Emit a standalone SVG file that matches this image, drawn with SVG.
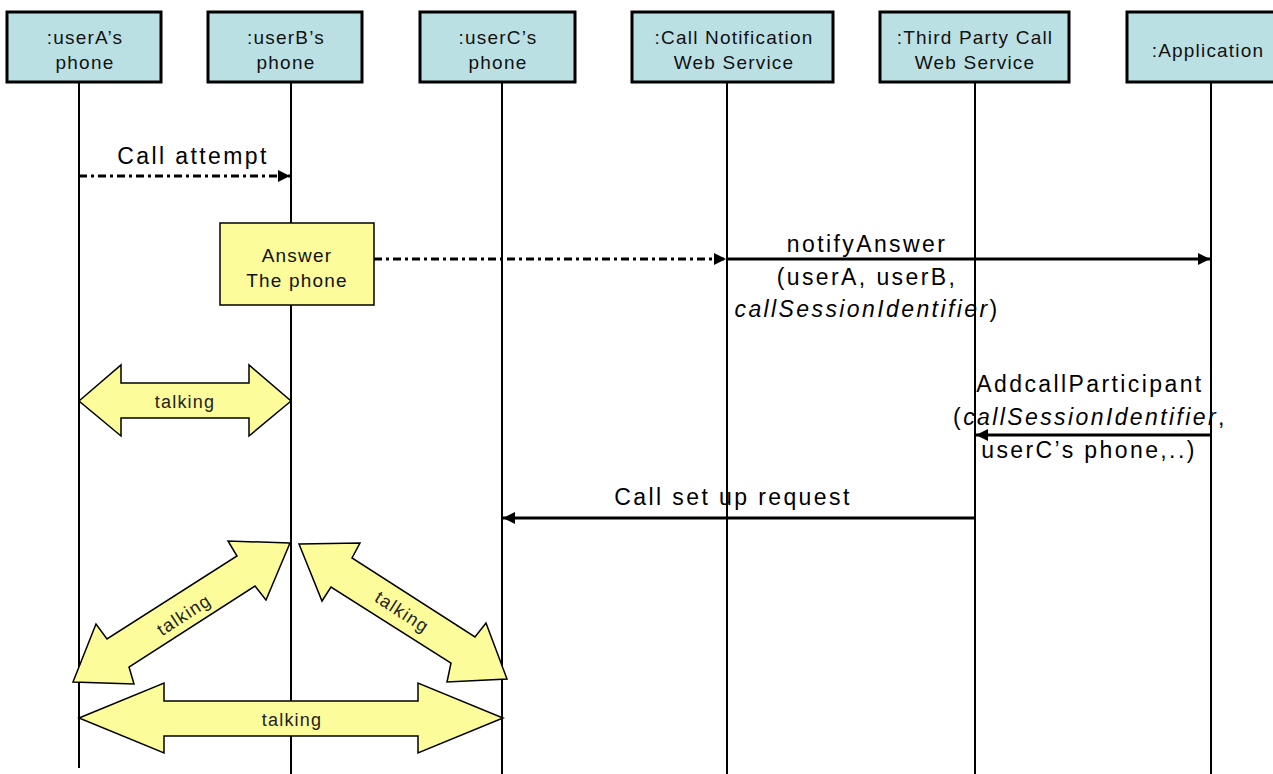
<svg xmlns="http://www.w3.org/2000/svg" width="1273" height="774" viewBox="0 0 1273 774">
<defs>
<marker id="ah" markerUnits="userSpaceOnUse" markerWidth="13" markerHeight="13" refX="12" refY="6" orient="auto">
<path d="M0,0 L12,6 L0,12 z" fill="#000"/>
</marker>
<style>
.obj{fill:#BBE0E3;stroke:#000;stroke-width:3}
.lbl{font-family:"Liberation Sans",Arial,sans-serif;font-size:19px;letter-spacing:1.2px;fill:#111;text-anchor:middle}
.msg{font-family:"Liberation Sans",Arial,sans-serif;font-size:23px;letter-spacing:2.4px;fill:#000;text-anchor:middle}
.life{stroke:#000;stroke-width:2;fill:none}
.dd{stroke:#000;stroke-width:3;fill:none;stroke-dasharray:8 4 3 4}
.sol{stroke:#000;stroke-width:3;fill:none}
.talk{fill:#FCFC9B;stroke:#000;stroke-width:1.5;stroke-linejoin:miter}
.tk{font-family:"Liberation Sans",Arial,sans-serif;font-size:18px;letter-spacing:1.2px;fill:#222;text-anchor:middle}
</style>
</defs>
<rect width="1273" height="774" fill="#fff"/>
<g id="lifelines">
<line class="life" x1="79" y1="82" x2="79" y2="768"/>
<line class="life" x1="291" y1="82" x2="291" y2="774"/>
<line class="life" x1="502" y1="82" x2="502" y2="774"/>
<line class="life" x1="727" y1="82" x2="727" y2="774"/>
<line class="life" x1="975" y1="82" x2="975" y2="774"/>
<line class="life" x1="1211" y1="82" x2="1211" y2="774"/>
</g>
<g id="userA">
<rect class="obj" x="7" y="12" width="154" height="70"/>
<text class="lbl" x="85" y="44">:userA’s</text>
<text class="lbl" x="85" y="69">phone</text>
</g>
<g id="userB">
<rect class="obj" x="208" y="12" width="154" height="70"/>
<text class="lbl" x="286" y="44">:userB’s</text>
<text class="lbl" x="286" y="69">phone</text>
</g>
<g id="userC">
<rect class="obj" x="420" y="12" width="155" height="70"/>
<text class="lbl" x="498" y="44">:userC’s</text>
<text class="lbl" x="498" y="69">phone</text>
</g>
<g id="callNotification">
<rect class="obj" x="632" y="12" width="201" height="70"/>
<text class="lbl" x="734" y="44">:Call Notification</text>
<text class="lbl" x="734" y="69">Web Service</text>
</g>
<g id="thirdParty">
<rect class="obj" x="880" y="12" width="189" height="70"/>
<text class="lbl" x="975" y="44">:Third Party Call</text>
<text class="lbl" x="975" y="69">Web Service</text>
</g>
<g id="application">
<rect class="obj" x="1127" y="12" width="150" height="70"/>
<text class="lbl" x="1208" y="57">:Application</text>
</g>
<g id="connectors">
<line class="dd" x1="79" y1="176" x2="290" y2="176" marker-end="url(#ah)"/>
<text class="msg" x="193" y="164">Call attempt</text>
<line class="dd" x1="374" y1="259" x2="726" y2="259" marker-end="url(#ah)"/>
<line class="sol" x1="727" y1="259" x2="1210" y2="259" marker-end="url(#ah)"/>
<text class="msg" x="867" y="252">notifyAnswer</text>
<text class="msg" x="867" y="285">(userA, userB,</text>
<text class="msg" x="867" y="317"><tspan font-style="italic">callSessionIdentifier</tspan>)</text>
<line class="sol" x1="1211" y1="435" x2="976" y2="435" marker-end="url(#ah)"/>
<text class="msg" x="1090" y="392">AddcallParticipant</text>
<text class="msg" x="1090" y="425">(<tspan font-style="italic">callSessionIdentifier</tspan>,</text>
<text class="msg" x="1089" y="458">userC’s phone,..)</text>
<line class="sol" x1="975" y1="518" x2="503" y2="518" marker-end="url(#ah)"/>
<text class="msg" x="733" y="505">Call set up request</text>
</g>
<g id="answer">
<rect x="220" y="223" width="154" height="82" fill="#FCFC9B" stroke="#000" stroke-width="1.5"/>
<text class="lbl" x="297" y="262">Answer</text>
<text class="lbl" x="297" y="287">The phone</text>
</g>
<g id="talkAB">
<polygon class="talk" points="79,401 121,365 121,383 249,383 249,365 291,401 249,436 249,418 121,418 121,436"/>
<text class="tk" x="185" y="408">talking</text>
</g>
<g id="talkAB2">
<polygon class="talk" points="290,543 228,541 237,556 107,639 96,624 73,682 134,684 129,667 255,586 266,600"/>
<text class="tk" transform="translate(184,615) rotate(-33)" x="0" y="6">talking</text>
</g>
<g id="talkBC">
<polygon class="talk" points="299,544 360,543 352,558 475,637 486,623 507,679 447,682 451,663 331,587 322,601"/>
<text class="tk" transform="translate(402,612) rotate(33)" x="0" y="6">talking</text>
</g>
<g id="talkAC">
<polygon class="talk" points="79,718 164,683 164,701 418,701 418,683 503,718 418,753 418,736 164,736 164,753"/>
<text class="tk" x="292" y="726">talking</text>
</g>
</svg>
